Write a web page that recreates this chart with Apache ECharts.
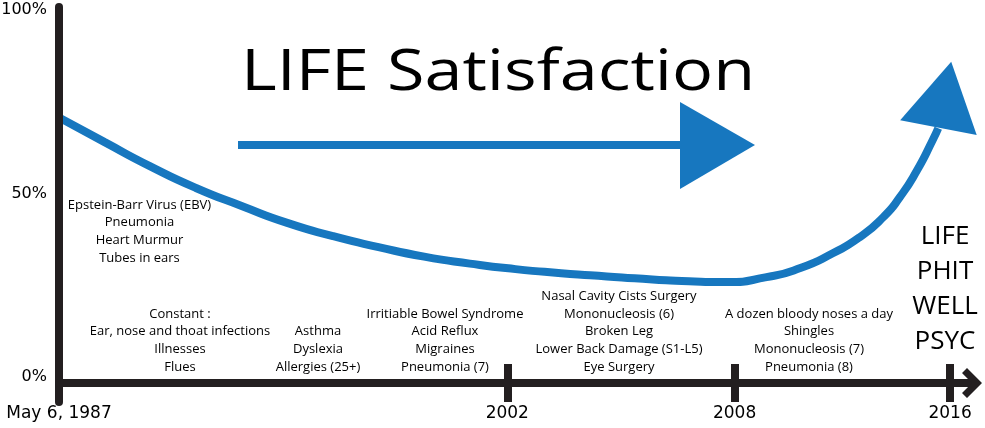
<!DOCTYPE html>
<html><head><meta charset="utf-8">
<script src="https://cdn.jsdelivr.net/npm/echarts@6/dist/echarts.min.js"></script>
<style>html,body{margin:0;padding:0;background:#fff}#chart{width:985px;height:428px}</style>
</head><body><div id="chart"></div>
<script>
// ---- data ----
const tickPositions = [0, 49.1, 74.0, 97.6];           // timeline positions of the axis ticks
const tickLabels = ['May 6, 1987', '2002', '2008', '2016'];
const yTickValues = [0, 50, 100];
const curveX = [0, 5, 10, 15, 20, 25, 30, 35, 40, 45, 50, 55, 60, 65, 69, 73, 77.5, 81.2, 84.8, 87.7, 90.3, 92.1, 94.0, 95.7, 96.3];
const curveY = [70.7, 64.0, 57.4, 51.5, 46.6, 42.0, 38.4, 35.4, 32.8, 30.9, 29.4, 28.3, 27.4, 26.6, 26.1, 25.9, 27.2, 29.7, 33.8, 38.1, 43.6, 49.0, 56.4, 64.6, 67.8];
const titleText = 'LIFE Satisfaction';
const sideLabels = ['LIFE', 'PHIT', 'WELL', 'PSYC'];
const notes = [
  ['Epstein-Barr Virus (EBV)', 'Pneumonia', 'Heart Murmur', 'Tubes in ears'],
  ['Constant :', 'Ear, nose and thoat infections', 'Illnesses', 'Flues'],
  ['Asthma', 'Dyslexia', 'Allergies (25+)'],
  ['Irritiable Bowel Syndrome', 'Acid Reflux', 'Migraines', 'Pneumonia (7)'],
  ['Nasal Cavity Cists Surgery', 'Mononucleosis (6)', 'Broken Leg', 'Lower Back Damage (S1-L5)', 'Eye Surgery'],
  ['A dozen bloody noses a day', 'Shingles', 'Mononucleosis (7)', 'Pneumonia (8)']
];

// ---- layout / style ----
const BLUE = '#1777bf';
const INK = '#231f20';
const FONT = 'Open Sans';
const AXFONT = 'DejaVu Sans';
const noteLayout = [
  {x: 139.5, y: 196, va: 'top'},
  {x: 180, y: 376, va: 'bottom'},
  {x: 318, y: 376, va: 'bottom'},
  {x: 445, y: 376, va: 'bottom'},
  {x: 619, y: 376, va: 'bottom'},
  {x: 809, y: 376, va: 'bottom'}
];

function labelFor(v) {
  for (let i = 0; i < tickPositions.length; i++) {
    if (Math.abs(tickPositions[i] - v) < 1e-6) return tickLabels[i];
  }
  return '';
}

const last = curveX.length - 1;
const curveData = curveX.map((x, i) => i === last
  ? {value: [x, curveY[i]], symbol: 'triangle', symbolSize: [78, 67], symbolRotate: -11, symbolOffset: [6.6, -33.5]}
  : [x, curveY[i]]);

const graphics = [];
graphics.push({
  type: 'text', x: 241, y: 45, scaleX: 1.2, z: 10,
  style: {text: titleText, fontSize: 57, fontFamily: FONT, fill: '#000', align: 'left', verticalAlign: 'top'}
});
graphics.push({
  type: 'line', z: 10,
  shape: {x1: 238, y1: 145, x2: 682, y2: 145},
  style: {stroke: BLUE, lineWidth: 8}
});
graphics.push({
  type: 'polygon', z: 10,
  shape: {points: [[680, 102], [680, 189], [755, 145]]},
  style: {fill: BLUE}
});
graphics.push({
  type: 'text', z: 10, x: 945, y: 219.5,
  style: {text: sideLabels.join('\n'), fontSize: 26, lineHeight: 35, fontFamily: FONT, fill: '#000', align: 'center', verticalAlign: 'top'}
});
notes.forEach((lines, i) => {
  const L = noteLayout[i];
  graphics.push({
    type: 'text', z: 10, x: L.x, y: L.y,
    style: {text: lines.join('\n'), fontSize: 13, lineHeight: 17.7, fontFamily: FONT, fill: '#000', align: 'center', verticalAlign: L.va}
  });
});

const tickLine = {color: INK, width: 8};
const chart = echarts.init(document.getElementById('chart'), null, {renderer: 'canvas'});
chart.setOption({
  animation: false,
  backgroundColor: '#fff',
  grid: {left: 59, right: 13, top: 7, bottom: 26, containLabel: false, outerBoundsMode: 'none'},
  xAxis: [{
    type: 'value', min: 0, max: 100, position: 'bottom', offset: -19, z: 4,
    axisLine: {show: true, onZero: false, symbol: ['none', 'path://M15,0L30,15L25,20L15,10L5,20L0,15Z'], symbolSize: [30, 20], lineStyle: {color: INK, width: 8}},
    axisTick: {show: true, inside: false, length: 19, customValues: tickPositions.slice(1), lineStyle: tickLine},
    axisLabel: {show: true, customValues: tickPositions, formatter: labelFor, margin: 22, fontSize: 17, color: '#000', fontFamily: AXFONT, showMinLabel: true, showMaxLabel: true},
    splitLine: {show: false}
  }, {
    type: 'value', min: 0, max: 100, position: 'bottom', offset: -19, z: 4,
    axisLine: {show: false, onZero: false},
    axisTick: {show: true, inside: true, length: 19, customValues: tickPositions.slice(1), lineStyle: tickLine},
    axisLabel: {show: false},
    splitLine: {show: false}
  }],
  yAxis: {
    type: 'value', min: -6.81, max: 100.82, z: 4,
    axisLine: {show: true, onZero: false, lineStyle: {color: INK, width: 8}},
    axisTick: {show: false},
    splitLine: {show: false},
    axisLabel: {customValues: yTickValues, formatter: v => v + '%', margin: 12, fontSize: 16, color: '#000', fontFamily: AXFONT}
  },
  series: [{
    type: 'line', xAxisIndex: 0, data: curveData, smooth: 0.6,
    symbol: 'none', showSymbol: true, showAllSymbol: true,
    lineStyle: {color: BLUE, width: 8},
    itemStyle: {color: BLUE},
    clip: false, z: 2
  }],
  graphic: graphics
});
</script>
</body></html>
